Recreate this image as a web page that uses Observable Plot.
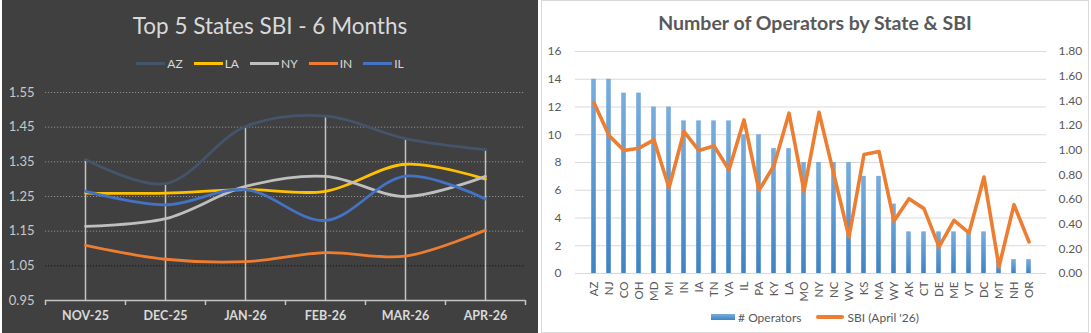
<!DOCTYPE html>
<html>
<head>
<meta charset="utf-8">
<script src="https://cdn.jsdelivr.net/npm/d3@7"></script>
<script src="https://cdn.jsdelivr.net/npm/@observablehq/plot@0.6"></script>
<style>
  html, body { margin:0; padding:0; background:#fff; }
  body { width:1091px; height:333px; overflow:hidden; position:relative; font-family:Lato, "Open Sans", sans-serif; }
  .abs { position:absolute; }
  #leftPanel { left:2px; top:0; width:536px; height:333px; background:#404040; }
  #rightPanel { left:541px; top:0; width:548px; height:333px; background:#fff; border:1px solid #d9d9d9; box-sizing:border-box; }
  #leftTitle { left:2px; width:536px; top:12px; text-align:center; font-size:22.5px; line-height:28px; font-weight:400; color:#d9d9d9; }
  #leftLegend { left:2px; width:536px; top:55px; height:16px; display:flex; justify-content:center; align-items:center; gap:11px; font-size:12px; color:#d9d9d9; }
  #leftLegend .item { display:flex; align-items:center; gap:2px; }
  #leftLegend .sw { width:29px; height:3px; display:inline-block; }
  #rightTitle { left:541px; width:548px; top:10px; text-align:center; font-size:19.5px; line-height:26px; font-weight:700; color:#595959; }
  #rightLegend { left:541px; width:548px; top:309px; height:16px; display:flex; justify-content:center; align-items:center; gap:15px; font-size:12px; color:#595959; }
  #rightLegend .item { display:flex; align-items:center; gap:3px; }
  #leftPlot { left:2px; top:0; }
  #rightPlot { left:541px; top:0; }
</style>
</head>
<body>
<svg width="0" height="0" style="position:absolute">
  <defs>
    <linearGradient id="barGrad" x1="0" y1="0" x2="0" y2="1">
      <stop offset="0" stop-color="#79ADDD"/>
      <stop offset="1" stop-color="#3F83C4"/>
    </linearGradient>
  </defs>
</svg>
<div id="leftPanel" class="abs"></div>
<div id="rightPanel" class="abs"></div>
<div id="leftPlot" class="abs"></div>
<div id="rightPlot" class="abs"></div>
<div id="leftTitle" class="abs">Top 5 States SBI - 6 Months</div>
<div id="leftLegend" class="abs"></div>
<div id="rightTitle" class="abs">Number of Operators by State &amp; SBI</div>
<div id="rightLegend" class="abs"></div>
<script>
// ---------- Left chart data ----------
const months = ["NOV-25", "DEC-25", "JAN-26", "FEB-26", "MAR-26", "APR-26"];
const seriesNames = ["AZ", "LA", "NY", "IN", "IL"];
const seriesColors = ["#44546A", "#FFC000", "#BFBFBF", "#ED7D31", "#4472C4"];
const sbiAZ = [1.357, 1.287, 1.452, 1.482, 1.417, 1.385];
const sbiLA = [1.260, 1.260, 1.270, 1.265, 1.343, 1.300];
const sbiNY = [1.164, 1.186, 1.279, 1.308, 1.250, 1.308];
const sbiIN = [1.109, 1.069, 1.062, 1.088, 1.078, 1.153];
const sbiIL = [1.265, 1.226, 1.270, 1.181, 1.309, 1.243];
const leftYTicks = [0.95, 1.05, 1.15, 1.25, 1.35, 1.45, 1.55];

// ---------- Right chart data ----------
const states = ["AZ","NJ","CO","OH","MD","MI","IN","IA","TN","VA","IL","PA","KY","LA","MO","NY","NC","WV","KS","MA","WY","AK","CT","DE","ME","VT","DC","MT","NH","OR"];
const operators = [14,14,13,13,12,12,11,11,11,11,10,10,9,9,8,8,8,8,7,7,5,3,3,3,3,3,3,1,1,1];
const sbiApril = [1.385,1.118,0.997,1.016,1.083,0.695,1.151,0.997,1.035,0.841,1.245,0.674,0.876,1.300,0.668,1.307,0.800,0.296,0.965,0.989,0.426,0.606,0.526,0.216,0.431,0.329,0.782,0.054,0.558,0.256];
const leftAxisTicks = [0, 2, 4, 6, 8, 10, 12, 14, 16];
const rightAxisTicks = [0, 0.2, 0.4, 0.6, 0.8, 1.0, 1.2, 1.4, 1.6, 1.8];
const rightAxisMax = 1.8;
const leftAxisMax = 16;

// ---------- Left chart ----------
const seriesValues = [sbiAZ, sbiLA, sbiNY, sbiIN, sbiIL];
const tidy = seriesNames.flatMap((name, s) => seriesValues[s].map((v, i) => ({name, i, v})));
const monthIdx = d3.range(months.length);
const maxPerMonth = monthIdx.map(i => d3.max(seriesValues, arr => arr[i]));
const bounds = d3.range(-0.5, months.length, 1);

const left = Plot.plot({
  width: 536, height: 333,
  marginLeft: 43, marginRight: 13, marginTop: 92, marginBottom: 33,
  style: {background: "transparent", fontFamily: "Lato, sans-serif", fontSize: "13px", color: "#c8c8c8", overflow: "visible"},
  x: {domain: [-0.5, months.length - 0.5], label: null},
  y: {domain: [0.95, 1.55], label: null},
  color: {domain: seriesNames, range: seriesColors},
  marks: [
    Plot.ruleY(leftYTicks.slice(1), {
      stroke: (d, i) => i === 0 ? "#151515" : "#8c8c8c",
      strokeDasharray: "1.2,1.8", strokeWidth: 1,
      x1: -0.5, x2: months.length - 0.5
    }),
    Plot.ruleX(monthIdx, {x: d => d, y1: 0.95, y2: i => maxPerMonth[i], stroke: "#c4c4c4", strokeWidth: 1.5}),
    Plot.ruleY([0.95], {stroke: "#c4c4c4", strokeWidth: 1.5}),
    Plot.axisX(bounds, {tickSize: 5, tickFormat: () => "", stroke: "#c4c4c4", strokeWidth: 1.5, label: null}),
    Plot.axisX(monthIdx, {tickSize: 0, tickPadding: 11, tickFormat: i => months[i], fontWeight: "bold", fontSize: 12.5, fill: "#d9d9d9", label: null}),
    Plot.axisY(leftYTicks, {tickSize: 0, tickPadding: 11, tickFormat: d3.format(".2f"), fill: "#c8c8c8", fontSize: 13, label: null}),
    Plot.line(tidy, {x: "i", y: "v", z: "name", stroke: "name", curve: "catmull-rom", strokeWidth: 2.8})
  ]
});
document.getElementById("leftPlot").appendChild(left);

// left legend
const ll = document.getElementById("leftLegend");
seriesNames.forEach((n, i) => {
  const it = document.createElement("span");
  it.className = "item";
  it.innerHTML = `<span class="sw" style="background:${seriesColors[i]}"></span><span>${n}</span>`;
  ll.appendChild(it);
});

// ---------- Right chart ----------
const k = leftAxisMax / rightAxisMax;
const right = Plot.plot({
  width: 548, height: 333,
  marginLeft: 34, marginRight: 43, marginTop: 51, marginBottom: 60,
  style: {background: "transparent", fontFamily: "Lato, sans-serif", fontSize: "12px", color: "#595959", overflow: "visible"},
  x: {domain: states, padding: 0, label: null},
  y: {domain: [0, leftAxisMax], label: null},
  marks: [
    Plot.ruleY(leftAxisTicks, {stroke: "#d9d9d9", strokeWidth: 1}),
    Plot.barY(states, {x: d => d, y: (d, i) => operators[i], fill: "url(#barGrad)", insetLeft: 5.2, insetRight: 5.2}),
    Plot.line(states, {x: d => d, y: (d, i) => sbiApril[i] * k, stroke: "#ED7D31", strokeWidth: 3.6, strokeLinejoin: "round"}),
    Plot.axisY(leftAxisTicks, {anchor: "left", tickSize: 0, tickPadding: 14, fill: "#595959", label: null}),
    Plot.axisY(rightAxisTicks.map(v => v * k), {anchor: "right", tickSize: 0, tickPadding: 12, tickFormat: v => (v / k).toFixed(2), fill: "#595959", label: null}),
    Plot.axisX(states, {tickSize: 0, tickRotate: -90, tickPadding: 8, fontSize: 11.5, fill: "#595959", label: null})
  ]
});
document.getElementById("rightPlot").appendChild(right);

// right legend
const rl = document.getElementById("rightLegend");
rl.innerHTML = `<span class="item"><span style="display:inline-block;width:24px;height:6px;background:linear-gradient(#79ADDD,#3F83C4)"></span><span># Operators</span></span>
<span class="item"><span style="display:inline-block;width:28px;height:3.5px;border-radius:2px;background:#ED7D31"></span><span>SBI (April '26)</span></span>`;
</script>
</body>
</html>
